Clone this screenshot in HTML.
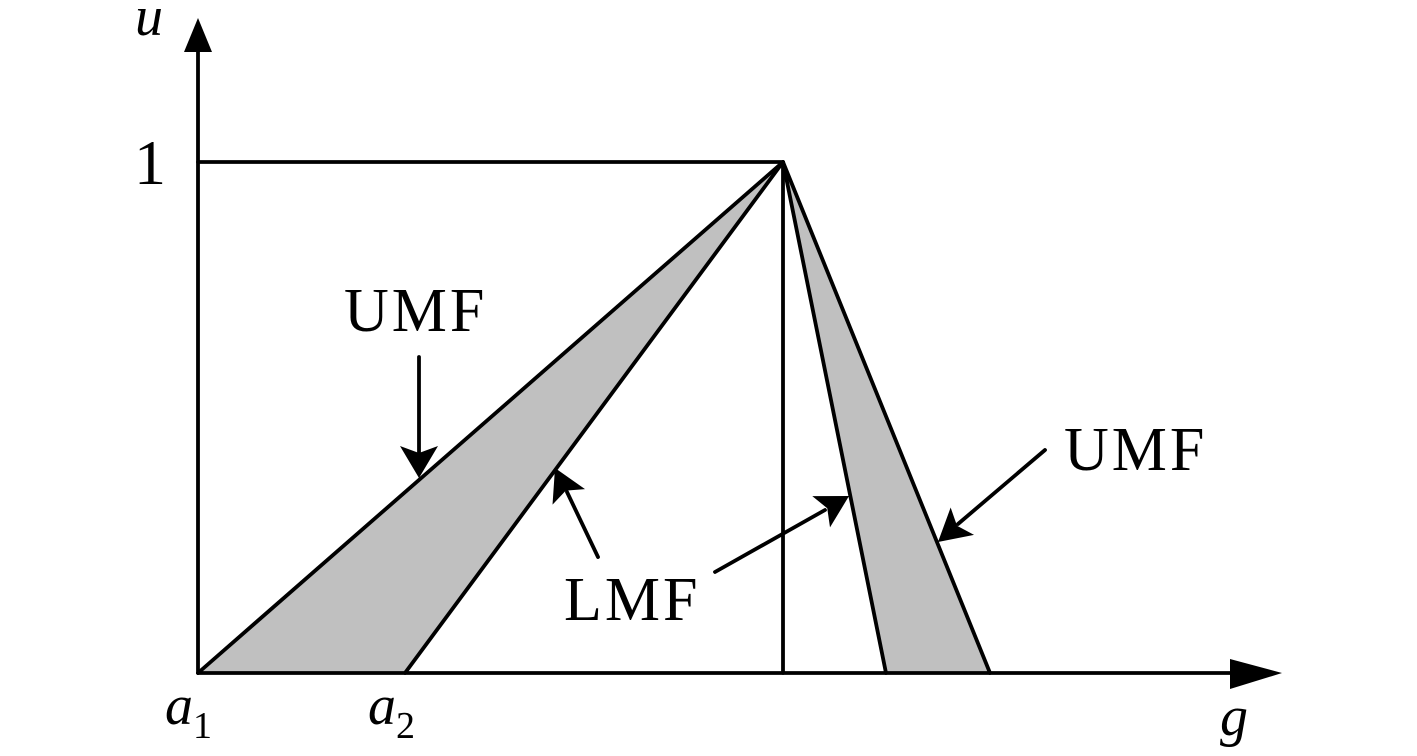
<!DOCTYPE html>
<html><head><meta charset="utf-8"><style>
html,body{margin:0;padding:0;background:#fff;width:1417px;height:756px;overflow:hidden}
text{font-family:"Liberation Serif","DejaVu Serif",serif;fill:#000}
</style></head><body>
<svg width="1417" height="756" viewBox="0 0 1417 756" xmlns="http://www.w3.org/2000/svg">
<polygon points="198,673 783,162 405,673" fill="#c0c0c0"/>
<polygon points="783,162 886,673 990,673" fill="#c0c0c0"/>
<g stroke="#000" stroke-width="3.8" fill="none" stroke-linecap="round">
<line x1="198" y1="673" x2="1235" y2="673"/>
<line x1="198" y1="673" x2="198" y2="50"/>
<line x1="198" y1="162" x2="783" y2="162"/>
<line x1="783" y1="162" x2="783" y2="673"/>
<line x1="198" y1="673" x2="783" y2="162"/>
<line x1="405" y1="673" x2="783" y2="162"/>
<line x1="783" y1="162" x2="886" y2="673"/>
<line x1="783" y1="162" x2="990" y2="673"/>
<line x1="419" y1="357" x2="419" y2="452"/>
<line x1="598" y1="557" x2="567" y2="492"/>
<line x1="715" y1="572" x2="825" y2="510"/>
<line x1="1045" y1="450" x2="958" y2="524"/>
</g>
<polygon points="1282,673 1230,659 1230,689" fill="#000"/>
<polygon points="198,18 184,52 212,52" fill="#000"/>
<g fill="#000">
<g transform="translate(419,478) rotate(180)"><polygon points="0,0 -19,32 0,25 19,32"/></g>
<g transform="translate(555,468) rotate(-25.5)"><polygon points="0,0 -18,32 0,25 18,32"/></g>
<g transform="translate(849,496) rotate(60.5)"><polygon points="0,0 -18,32 0,25 18,32"/></g>
<g transform="translate(938,542) rotate(-130.5)"><polygon points="0,0 -18,32 0,25 18,32"/></g>
</g>
<text x="344" y="331" font-size="62" letter-spacing="3">UMF</text>
<text x="1064" y="470" font-size="62" letter-spacing="3">UMF</text>
<text x="564" y="620" font-size="62" letter-spacing="3">LMF</text>
<text x="134" y="184" font-size="64">1</text>
<text x="135" y="35" font-size="56" font-style="italic">u</text>
<text x="1220" y="735" font-size="56" font-style="italic">g</text>
<text x="165" y="724" font-size="56" font-style="italic">a<tspan font-size="38" font-style="normal" dy="14">1</tspan></text>
<text x="368" y="724" font-size="56" font-style="italic">a<tspan font-size="38" font-style="normal" dy="14">2</tspan></text>
</svg>
</body></html>
